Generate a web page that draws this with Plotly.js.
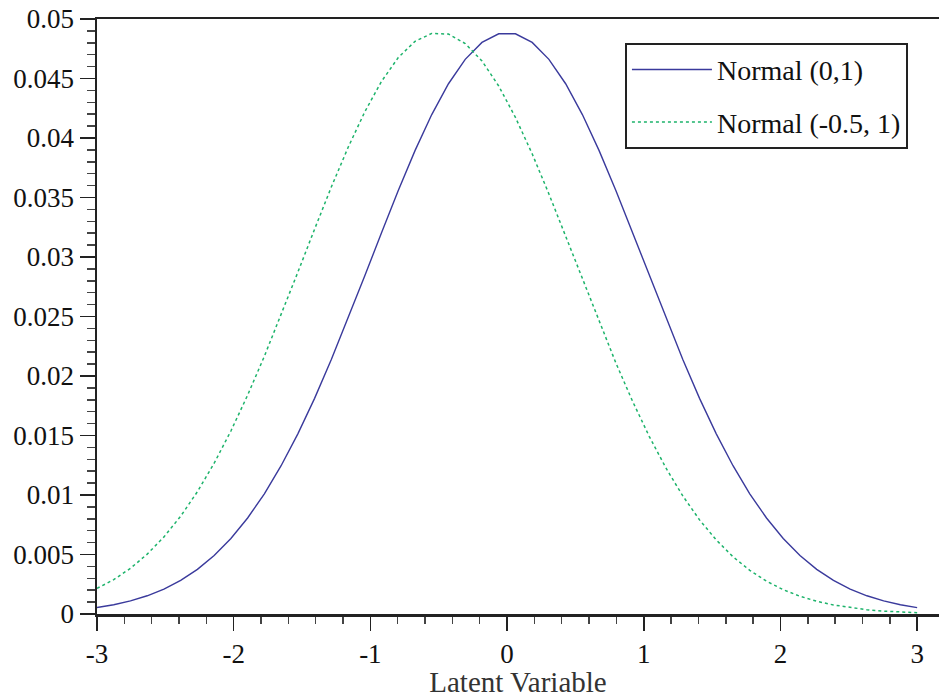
<!DOCTYPE html>
<html>
<head>
<meta charset="utf-8">
<script src="https://cdn.plot.ly/plotly-3.0.1.min.js"></script>
<style>html,body{margin:0;padding:0;background:#fff;}#chart{width:939px;height:698px;}</style>
</head>
<body>
<div id="chart"></div>
<script>
const latentX = [-3.0000,-2.8776,-2.7551,-2.6327,-2.5102,-2.3878,-2.2653,-2.1429,-2.0204,-1.8980,-1.7755,-1.6531,-1.5306,-1.4082,-1.2857,-1.1633,-1.0408,-0.9184,-0.7959,-0.6735,-0.5510,-0.4286,-0.3061,-0.1837,-0.0612,0.0612,0.1837,0.3061,0.4286,0.5510,0.6735,0.7959,0.9184,1.0408,1.1633,1.2857,1.4082,1.5306,1.6531,1.7755,1.8980,2.0204,2.1429,2.2653,2.3878,2.5102,2.6327,2.7551,2.8776,3.0000];
const normal01 = [0.00054,0.00078,0.00110,0.00153,0.00209,0.00282,0.00375,0.00492,0.00635,0.00807,0.01010,0.01246,0.01514,0.01812,0.02138,0.02483,0.02842,0.03204,0.03559,0.03894,0.04197,0.04456,0.04661,0.04803,0.04876,0.04876,0.04803,0.04661,0.04456,0.04197,0.03894,0.03559,0.03204,0.02842,0.02483,0.02138,0.01812,0.01514,0.01246,0.01010,0.00807,0.00635,0.00492,0.00375,0.00282,0.00209,0.00153,0.00110,0.00078,0.00054];
const normalShift = [0.00215,0.00289,0.00384,0.00503,0.00648,0.00822,0.01028,0.01267,0.01538,0.01839,0.02166,0.02513,0.02872,0.03234,0.03588,0.03920,0.04220,0.04476,0.04676,0.04812,0.04879,0.04873,0.04794,0.04647,0.04437,0.04173,0.03867,0.03530,0.03174,0.02812,0.02454,0.02110,0.01787,0.01491,0.01225,0.00992,0.00791,0.00622,0.00481,0.00367,0.00276,0.00204,0.00149,0.00107,0.00076,0.00053,0.00036,0.00024,0.00016,0.00011];
const seriesNames = ["Normal (0,1)", "Normal (-0.5, 1)"];
const xTickVals = [-3,-2,-1,0,1,2,3];
const xTickText = ["-3","-2","-1","0","1","2","3"];
const yTickVals = [0,0.005,0.01,0.015,0.02,0.025,0.03,0.035,0.04,0.045,0.05];
const yTickText = ["0","0.005","0.01","0.015","0.02","0.025","0.03","0.035","0.04","0.045","0.05"];

const FONT = "Liberation Serif, Times New Roman, serif";
const traces = [
  {x: latentX, y: normal01, name: seriesNames[0], type: "scatter", mode: "lines",
   legendgroup: "a", line: {color: "#3a3a9c", width: 1.4}},
  {x: latentX, y: normalShift, name: seriesNames[1], type: "scatter", mode: "lines",
   legendgroup: "b", line: {color: "#1db36b", width: 1.5, dash: "dot"}}
];
const layout = {
  width: 939, height: 698,
  margin: {l: 97, r: 0, t: 19, b: 84},
  paper_bgcolor: "#fff", plot_bgcolor: "#fff",
  font: {family: FONT, size: 27, color: "#111"},
  showlegend: true,
  legend: {x: 0.627, y: 0.96, xanchor: "left", yanchor: "top",
    bordercolor: "#222", borderwidth: 2, bgcolor: "#fff",
    font: {family: FONT, size: 28, color: "#111"}, tracegroupgap: 13,
    itemwidth: 80, entrywidth: 300, entrywidthmode: "pixels"},
  xaxis: {range: [-3, 3.16], tickvals: xTickVals, ticktext: xTickText,
    ticks: "outside", ticklen: 14, tickwidth: 1.5, tickcolor: "#222",
    showline: true, linecolor: "#222", linewidth: 2.5, mirror: true,
    showgrid: false, zeroline: false,
    minor: {dtick: 0.2, ticks: "outside", ticklen: 7, tickwidth: 1.5, tickcolor: "#444", showgrid: false},
    tickfont: {family: FONT, size: 27, color: "#111"},
    title: {text: "Latent Variable", font: {family: FONT, size: 29, color: "#333"}, standoff: 2}},
  yaxis: {range: [0, 0.05], tickvals: yTickVals, ticktext: yTickText,
    ticks: "outside", ticklen: 15, tickwidth: 1.5, tickcolor: "#222",
    showline: true, linecolor: "#222", linewidth: 2.5,
    showgrid: false, zeroline: false,
    minor: {dtick: 0.001, ticks: "outside", ticklen: 8, tickwidth: 1.5, tickcolor: "#444", showgrid: false},
    tickfont: {family: FONT, size: 27, color: "#111"}}
};
Plotly.newPlot("chart", traces, layout, {displayModeBar: false, staticPlot: true});
</script>
</body>
</html>
